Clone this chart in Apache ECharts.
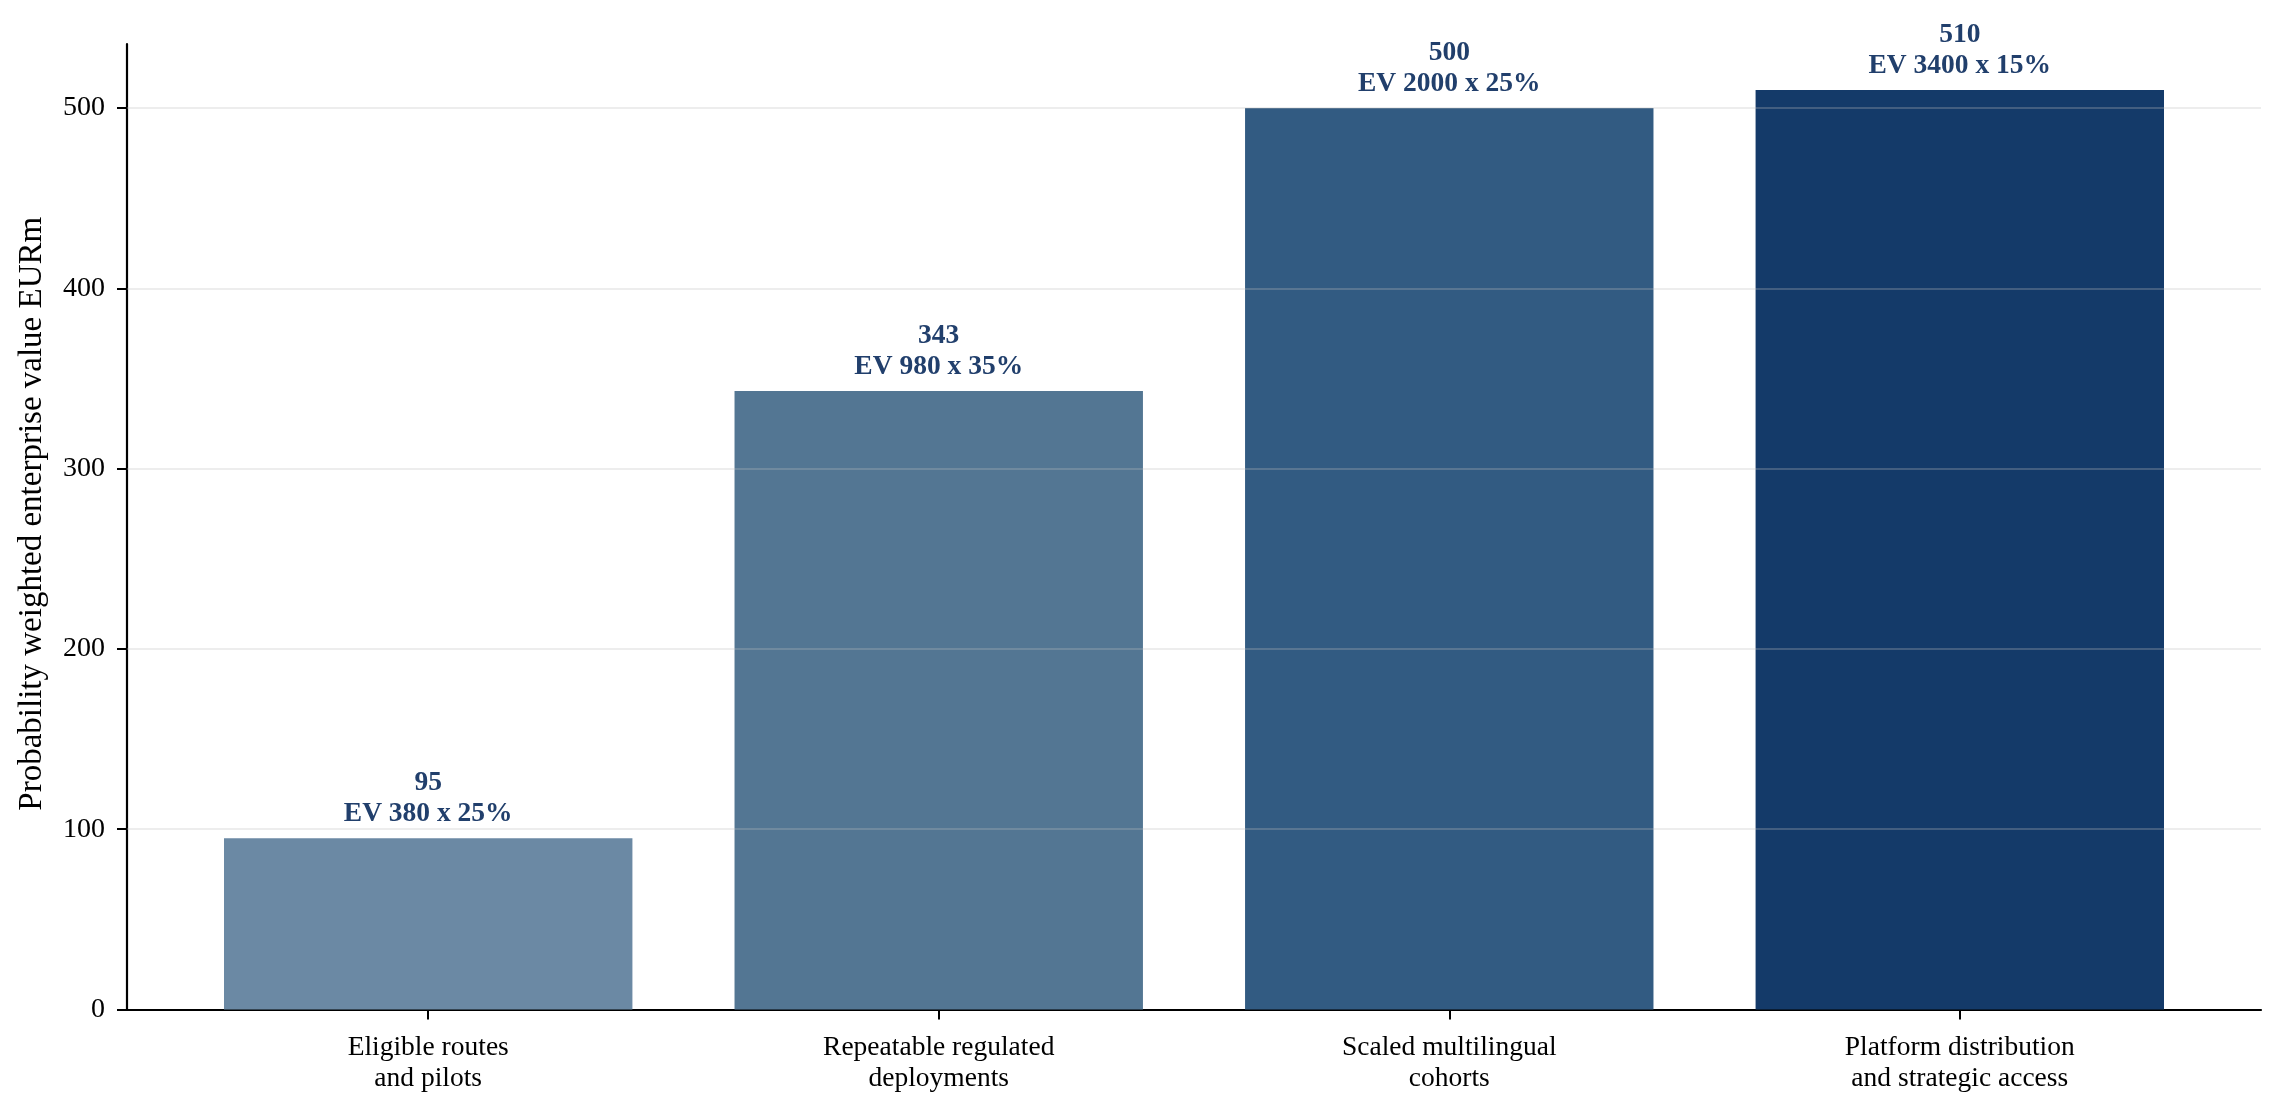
<!DOCTYPE html>
<html>
<head>
<meta charset="utf-8">
<script src="https://cdn.jsdelivr.net/npm/echarts@6/dist/echarts.min.js"></script>
<style>
html,body{margin:0;padding:0;background:#fff;}
#chart{width:2284px;height:1115px;}
</style>
</head>
<body>
<div id="chart"></div>
<script>
const categories = [
  "Eligible routes\nand pilots",
  "Repeatable regulated\ndeployments",
  "Scaled multilingual\ncohorts",
  "Platform distribution\nand strategic access"
];
const weightedValues = [95, 343, 500, 510];
const enterpriseValues = [380, 980, 2000, 3400];
const probabilities = [25, 35, 25, 15];
const yTicks = [0, 100, 200, 300, 400, 500];
const yAxisTitle = "Probability weighted enterprise value EURm";

const barColors = ["#6b89a4", "#537693", "#325b82", "#143a69"];
const labelColor = "#213f6c";
const FONT = "'Liberation Serif', 'Times New Roman', serif";

const xMin = -0.59, xMax = 3.59, yMax = 535.5;
const gridLeft = 127, gridRight = 23, gridTop = 44, gridBottom = 105.5;

const chart = echarts.init(document.getElementById('chart'), null, {renderer: 'canvas'});
const gridWidth = 2284 - gridLeft - gridRight;
const barWidth = 0.8 * gridWidth / (xMax - xMin);

const option = {
  backgroundColor: '#ffffff',
  animation: false,
  textStyle: {fontFamily: FONT},
  grid: {left: gridLeft, right: gridRight, top: gridTop, bottom: gridBottom, containLabel: false, outerBoundsMode: 'none'},
  xAxis: {
    type: 'value',
    min: xMin, max: xMax,
    splitLine: {show: false},
    axisLine: {show: true, onZero: false, lineStyle: {color: '#000', width: 2.2}},
    axisTick: {show: true, length: 10, lineStyle: {color: '#000', width: 2}, customValues: [0, 1, 2, 3]},
    axisLabel: {
      customValues: [0, 1, 2, 3],
      formatter: v => categories[Math.round(v)],
      color: '#000', fontSize: 27.5, fontFamily: FONT, lineHeight: 31, margin: 23
    }
  },
  yAxis: {
    type: 'value',
    min: 0, max: yMax,
    name: yAxisTitle,
    nameLocation: 'middle',
    nameGap: 95,
    nameRotate: 90,
    nameTextStyle: {fontSize: 33, color: '#000', fontFamily: FONT, verticalAlign: 'middle', padding: [0, 0, 0, 26]},
    splitLine: {show: false},
    axisLine: {show: true, onZero: false, lineStyle: {color: '#000', width: 2.2}},
    axisTick: {show: true, length: 10, lineStyle: {color: '#000', width: 2}, customValues: yTicks},
    axisLabel: {customValues: yTicks, color: '#000', fontSize: 28, fontFamily: FONT, margin: 22}
  },
  series: [{
    type: 'bar',
    barWidth: barWidth,
    data: weightedValues.map((v, i) => ({value: [i, v], itemStyle: {color: barColors[i]}})),
    label: {
      show: true,
      position: 'top',
      distance: 9,
      color: labelColor,
      fontWeight: 'bold',
      fontSize: 27.5,
      lineHeight: 31,
      fontFamily: FONT,
      align: 'center',
      formatter: p => weightedValues[p.dataIndex] + "\nEV " + enterpriseValues[p.dataIndex] + " x " + probabilities[p.dataIndex] + "%"
    },
    markLine: {
      silent: true,
      symbol: ['none', 'none'],
      z: 5,
      label: {show: false},
      lineStyle: {color: 'rgba(190,190,190,0.28)', width: 2, type: 'solid'},
      data: yTicks.filter(t => t > 0).map(t => ({yAxis: t}))
    }
  }]
};
chart.setOption(option);
</script>
</body>
</html>
